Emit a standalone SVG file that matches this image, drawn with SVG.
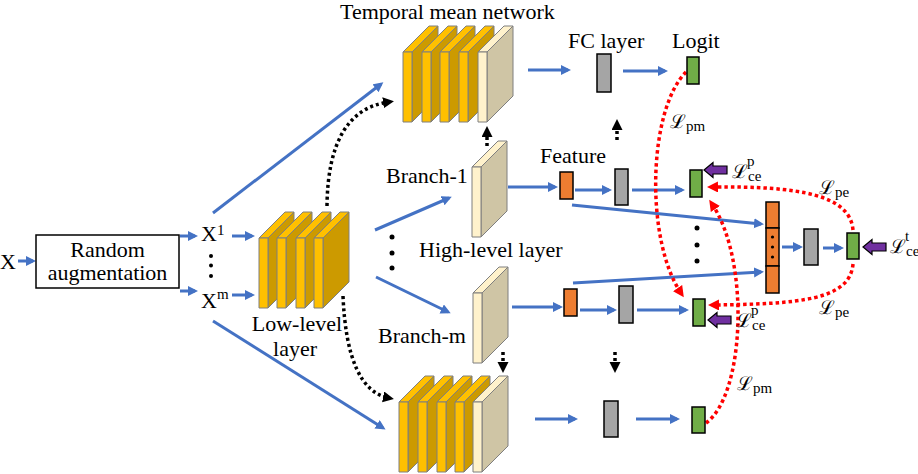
<svg xmlns="http://www.w3.org/2000/svg" width="918" height="474" viewBox="0 0 918 474">
<style>
.t{font-family:"Liberation Serif","DejaVu Serif",serif;font-size:22px;fill:#000}
.s{font-family:"Liberation Serif","DejaVu Serif",serif;font-size:15px;fill:#000}
.L{font-family:"DejaVu Serif","Liberation Serif",serif;font-size:19px;fill:#000}
.sub{font-family:"Liberation Serif","DejaVu Serif",serif;font-size:15px}
.blue{stroke:#4472C4;stroke-width:3;fill:none;marker-end:url(#ab)}
.red{stroke:#FF0000;stroke-width:3.5;stroke-dasharray:3.5 3;fill:none;marker-end:url(#ar)}
.blk{stroke:#000;stroke-width:3.5;stroke-dasharray:3 3;fill:none;marker-end:url(#ak)}
.g{fill:#70AD47;stroke:#000;stroke-width:1.5}
.o{fill:#ED7D31;stroke:#000;stroke-width:1.5}
.gr{fill:#A5A5A5;stroke:#000;stroke-width:1.5}
.pu{fill:#7030A0;stroke:#000;stroke-width:1.2}
.dot{fill:#000}
.sl{stroke:#7F7F7F;stroke-width:1;stroke-linejoin:round}
</style>
<defs>
<marker id="ab" markerWidth="11" markerHeight="11" refX="7" refY="5" orient="auto" markerUnits="userSpaceOnUse"><path d="M0,0 L10,5 L0,10 Z" fill="#4472C4"/></marker>
<marker id="ar" markerWidth="12" markerHeight="12" refX="6" refY="5.5" orient="auto" markerUnits="userSpaceOnUse"><path d="M0,0 L11,5.5 L0,11 Z" fill="#FF0000"/></marker>
<marker id="ak" markerWidth="12" markerHeight="12" refX="6" refY="5.5" orient="auto" markerUnits="userSpaceOnUse"><path d="M0,0 L11,5.5 L0,11 Z" fill="#000"/></marker>
<g id="gs" class="sl">
<polygon points="9,0 35,-26 35,44 9,70" fill="#CC9A00"/>
<polygon points="0,0 26,-26 35,-26 9,0" fill="#FFC000"/>
<rect x="0" y="0" width="9" height="70" fill="#FFC000"/>
</g>
<g id="bs" class="sl">
<polygon points="9,0 35,-26 35,44 9,70" fill="#CFC5A5"/>
<polygon points="0,0 26,-26 35,-26 9,0" fill="#FFF2CC"/>
<rect x="0" y="0" width="9" height="70" fill="#FFF2CC"/>
</g>
<path id="pa" d="M0,0 L9,-7.5 L9,-4 L23,-4 L23,4 L9,4 L9,7.5 Z"/>
</defs>

<g id="connectors">
<line class="blue" x1="18" y1="261" x2="33" y2="261"/>
<line class="blue" x1="180" y1="236" x2="195" y2="236"/>
<line class="blue" x1="180" y1="291" x2="195" y2="291"/>
<line class="blue" x1="232" y1="236" x2="252" y2="236"/>
<line class="blue" x1="232" y1="295" x2="252" y2="295"/>
<line class="blue" x1="213" y1="213" x2="381" y2="84"/>
<line class="blue" x1="213" y1="321" x2="383" y2="428"/>
<line class="blue" x1="375" y1="230" x2="449" y2="198"/>
<line class="blue" x1="376" y1="277" x2="448" y2="312"/>
<line class="blue" x1="528" y1="70" x2="568" y2="70"/>
<line class="blue" x1="623" y1="71" x2="665" y2="71"/>
<line class="blue" x1="508" y1="187" x2="555" y2="187"/>
<line class="blue" x1="575" y1="190" x2="609" y2="190"/>
<line class="blue" x1="632" y1="190" x2="682" y2="190"/>
<line class="blue" x1="572" y1="205" x2="761" y2="224"/>
<line class="blue" x1="573" y1="283" x2="761" y2="272"/>
<line class="blue" x1="512" y1="307" x2="560" y2="307"/>
<line class="blue" x1="580" y1="310" x2="614" y2="310"/>
<line class="blue" x1="637" y1="310" x2="686" y2="310"/>
<line class="blue" x1="782" y1="247" x2="800" y2="247"/>
<line class="blue" x1="823" y1="248" x2="841" y2="248"/>
<line class="blue" x1="535" y1="419" x2="575" y2="419"/>
<line class="blue" x1="636" y1="419" x2="677" y2="419"/>
<path class="blk" d="M327,206 Q328,110 389,102"/>
<path class="blk" d="M343,296 Q347,390 389,398"/>
<line class="blk" x1="487" y1="146" x2="487" y2="131"/>
<line class="blk" x1="503" y1="352" x2="503" y2="368"/>
<line class="blk" x1="617" y1="140" x2="617" y2="124"/>
<line class="blk" x1="615" y1="352" x2="615" y2="368"/>
<path class="red" d="M686,72 C648,110 645,240 681,293"/>
<path class="red" d="M706,423 C745,395 750,260 712,204"/>
<path class="red" d="M853,230 C850,195 800,186 712,187"/>
<path class="red" d="M853,264 C850,300 800,304 713,305"/>
</g>

<g id="input-x"><text class="t" x="0" y="269">X</text></g>
<g id="random-augmentation">
<rect x="36" y="235" width="143" height="53" fill="#fff" stroke="#000" stroke-width="1.5"/>
<text class="t" x="107.5" y="257" text-anchor="middle">Random<tspan x="107.5" dy="23">augmentation</tspan></text>
</g>
<g id="x1"><text class="t" x="201" y="241">X<tspan class="sub" dy="-6">1</tspan></text></g>
<g id="x-dots"><circle class="dot" cx="211" cy="256" r="2"/><circle class="dot" cx="211" cy="265.5" r="2"/><circle class="dot" cx="211" cy="276" r="2"/></g>
<g id="xm"><text class="t" x="201" y="308">X<tspan class="sub" dy="-9">m</tspan></text></g>

<g id="low-level-layer">
<use href="#gs" x="259" y="238"/>
<use href="#gs" x="277" y="238"/>
<use href="#gs" x="296" y="238"/>
<use href="#gs" x="314" y="238"/>
<text class="t" x="297" y="331" text-anchor="middle">Low-level<tspan x="295" dy="25">layer</tspan></text>
</g>

<g id="temporal-mean-network-top">
<text class="t" x="340" y="19">Temporal mean network</text>
<use href="#gs" x="403" y="52"/>
<use href="#gs" x="422" y="52"/>
<use href="#gs" x="440" y="52"/>
<use href="#gs" x="459" y="52"/>
<use href="#bs" x="478" y="52"/>
</g>

<g id="temporal-mean-network-bottom">
<use href="#gs" x="399" y="402"/>
<use href="#gs" x="418" y="402"/>
<use href="#gs" x="437" y="402"/>
<use href="#gs" x="455" y="402"/>
<use href="#bs" x="473" y="402"/>
</g>

<g id="branch-1">
<use href="#bs" x="472" y="167"/>
<text class="t" x="386" y="183">Branch-1</text>
</g>
<g id="branch-dots"><circle class="dot" cx="392" cy="237" r="2.5"/><circle class="dot" cx="392" cy="253" r="2.5"/><circle class="dot" cx="392" cy="268" r="2.5"/></g>
<g id="high-level-label"><text class="t" x="419" y="257">High-level layer</text></g>
<g id="branch-m">
<use href="#bs" x="473" y="293"/>
<text class="t" x="378" y="343">Branch-m</text>
</g>

<g id="fc-top"><text class="t" x="568" y="48">FC layer</text><rect class="gr" x="597" y="54" width="14" height="38"/></g>
<g id="logit-top"><text class="t" x="672" y="48">Logit</text><rect class="g" x="687" y="57" width="12" height="27"/></g>
<g id="loss-pm-top"><text class="L" x="670" y="128">ℒ<tspan class="sub" dy="3">pm</tspan></text></g>

<g id="feature-1"><text class="t" x="540" y="163">Feature</text><rect class="o" x="560" y="172" width="13" height="27"/></g>
<g id="fc-1"><rect class="gr" x="615" y="169" width="13" height="36"/></g>
<g id="logit-1"><rect class="g" x="690" y="170" width="12" height="27"/></g>
<g id="loss-ce-p-1"><use href="#pa" class="pu" x="704" y="170"/><text class="L" x="732" y="178">ℒ<tspan class="sub" dy="3">ce</tspan><tspan class="sub" x="747" dy="-15">p</tspan></text></g>

<g id="mid-dots"><circle class="dot" cx="697" cy="228" r="2.5"/><circle class="dot" cx="697" cy="245" r="2.5"/><circle class="dot" cx="697" cy="261" r="2.5"/></g>

<g id="feature-m"><rect class="o" x="564" y="289" width="13" height="27"/></g>
<g id="fc-m"><rect class="gr" x="619" y="286" width="14" height="37"/></g>
<g id="logit-m"><rect class="g" x="693" y="299" width="12" height="27"/></g>
<g id="loss-ce-p-m"><use href="#pa" class="pu" x="708" y="320"/><text class="L" x="736" y="327">ℒ<tspan class="sub" dy="3">ce</tspan><tspan class="sub" x="751" dy="-15">p</tspan></text></g>

<g id="concat-feature">
<rect class="o" x="766" y="202" width="13" height="26"/>
<rect class="o" x="766" y="228" width="13" height="38"/>
<rect class="o" x="766" y="266" width="13" height="27"/>
<circle class="dot" cx="772.5" cy="237" r="1.6"/><circle class="dot" cx="772.5" cy="247" r="1.6"/><circle class="dot" cx="772.5" cy="257" r="1.6"/>
</g>
<g id="fc-t"><rect class="gr" x="804" y="229" width="14" height="36"/></g>
<g id="logit-t"><rect class="g" x="847" y="233" width="12" height="26"/></g>
<g id="loss-ce-t"><use href="#pa" class="pu" x="863" y="247"/><text class="L" x="890" y="253">ℒ<tspan class="sub" dy="3">ce</tspan><tspan class="sub" x="905" dy="-15">t</tspan></text></g>
<g id="loss-pe-upper"><text class="L" x="819" y="194">ℒ<tspan class="sub" dy="3">pe</tspan></text></g>
<g id="loss-pe-lower"><text class="L" x="819" y="314">ℒ<tspan class="sub" dy="3">pe</tspan></text></g>

<g id="fc-bottom"><rect class="gr" x="604" y="401" width="14" height="36"/></g>
<g id="logit-bottom"><rect class="g" x="692" y="407" width="13" height="26"/></g>
<g id="loss-pm-bottom"><text class="L" x="737" y="390">ℒ<tspan class="sub" dy="3">pm</tspan></text></g>
</svg>
